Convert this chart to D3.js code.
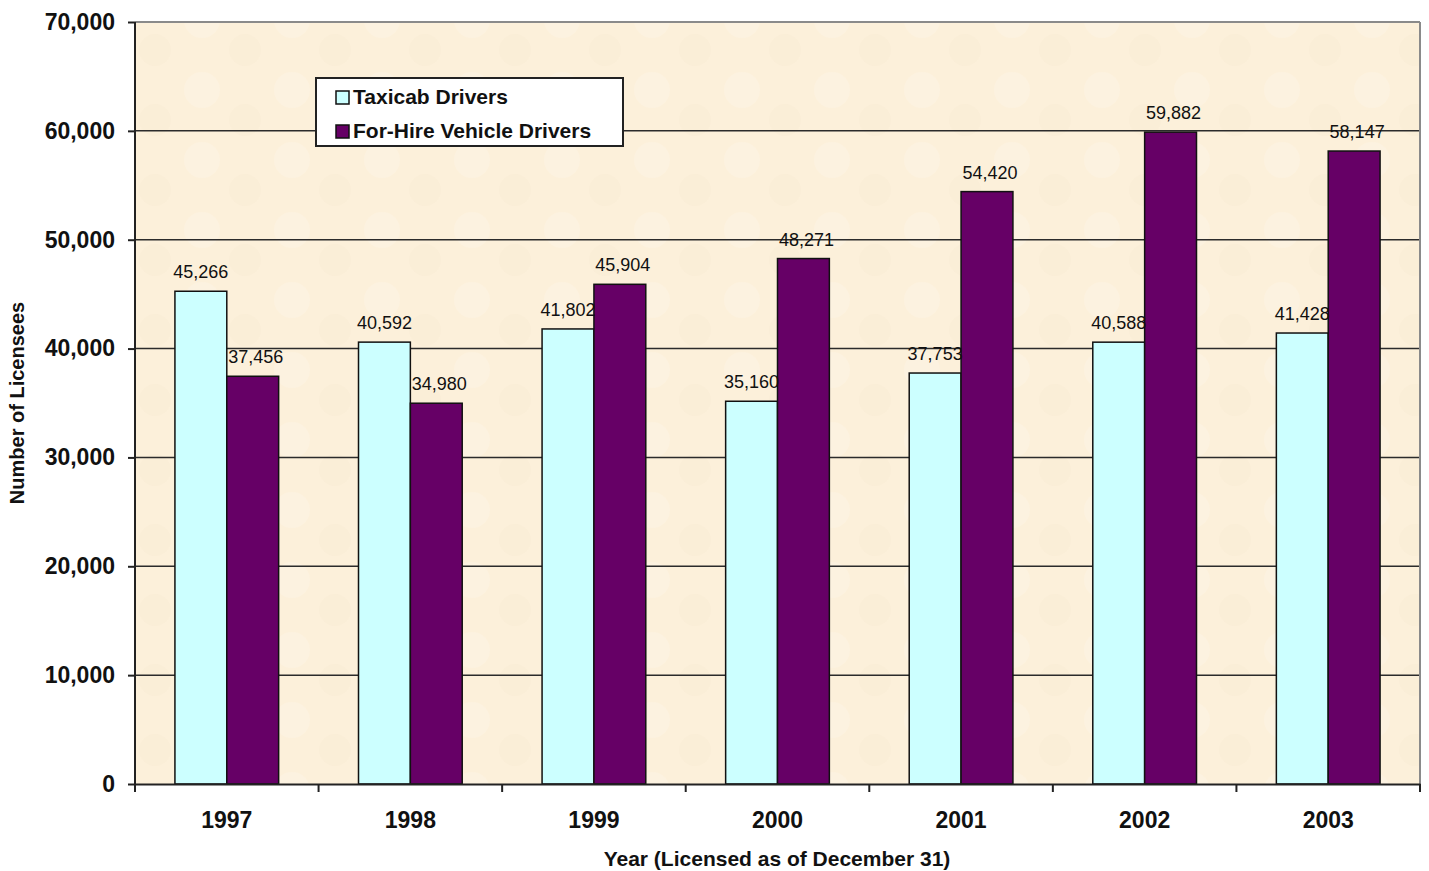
<!DOCTYPE html>
<html><head><meta charset="utf-8">
<script src="https://cdn.jsdelivr.net/npm/d3@7"></script>
<style>body{margin:0;background:#fff;} svg{display:block;font-family:Arial,"Liberation Sans",sans-serif;}</style>
</head><body>
<script>
const years = ["1997","1998","1999","2000","2001","2002","2003"];
const seriesNames = ["Taxicab Drivers","For-Hire Vehicle Drivers"];
const taxiValues = [45266,40592,41802,35160,37753,40588,41428];
const fhvValues = [37456,34980,45904,48271,54420,59882,58147];
const yTicks = [0,10000,20000,30000,40000,50000,60000,70000];
const colors = ["#CCFFFF","#660066"];

const W=1429,H=871;
const m={left:135,right:9,top:22,bottom:87};
const svg=d3.select("body").append("svg").attr("width",W).attr("height",H);

const x=d3.scaleBand().domain(years).range([m.left,W-m.right]).paddingInner(0).paddingOuter(0);
const xs=d3.scaleBand().domain([0,1]).range([0,x.bandwidth()]).paddingInner(0).paddingOuter(0.77);
const y=d3.scaleLinear().domain([0,70000]).range([H-m.bottom,m.top]);

// background
const defs=svg.append("defs");
const pat=defs.append("pattern").attr("id","tex").attr("width",90).attr("height",70).attr("patternUnits","userSpaceOnUse");
pat.append("rect").attr("width",90).attr("height",70).attr("fill","#FCF0DA");
pat.append("circle").attr("cx",22).attr("cy",20).attr("r",18).attr("fill","#FDF5E8").attr("opacity",0.45);
pat.append("circle").attr("cx",65).attr("cy",50).attr("r",16).attr("fill","#F9EBD2").attr("opacity",0.45);
svg.append("rect").attr("x",m.left).attr("y",m.top).attr("width",W-m.right-m.left).attr("height",H-m.bottom-m.top).attr("fill","url(#tex)");

// gridlines
svg.append("g").selectAll("line").data(yTicks.filter(d=>d>0)).join("line")
  .attr("x1",m.left).attr("x2",W-m.right).attr("y1",d=>y(d)).attr("y2",d=>y(d))
  .attr("stroke",d=>d===70000?"#8a8a8a":"#2b2b2b").attr("stroke-width",d=>d===70000?2:1.5);
svg.append("line").attr("x1",W-m.right).attr("x2",W-m.right).attr("y1",m.top).attr("y2",H-m.bottom).attr("stroke","#8a8a8a").attr("stroke-width",2);

// bars
const data=years.map((yr,i)=>({yr,vals:[taxiValues[i],fhvValues[i]]}));
const g=svg.append("g").selectAll("g").data(data).join("g").attr("transform",d=>`translate(${x(d.yr)},0)`);
g.selectAll("rect").data(d=>d.vals.map((v,k)=>({v,k}))).join("rect")
  .attr("x",d=>xs(d.k)).attr("width",xs.bandwidth())
  .attr("y",d=>y(d.v)).attr("height",d=>y(0)-y(d.v))
  .attr("fill",d=>colors[d.k]).attr("stroke","#111").attr("stroke-width",1.5);
g.selectAll("text").data(d=>d.vals.map((v,k)=>({v,k}))).join("text")
  .attr("x",d=>xs(d.k)+xs.bandwidth()/2+(d.k===1?3:0)).attr("y",d=>y(d.v)-13)
  .attr("text-anchor","middle").attr("font-size",18).attr("fill","#111")
  .text(d=>d3.format(",")(d.v));

// y axis
const ya=svg.append("g").attr("transform",`translate(${m.left},0)`)
  .call(d3.axisLeft(y).tickValues(yTicks).tickFormat(d3.format(",")).tickSize(7).tickPadding(13));
ya.select(".domain").attr("stroke","#222").attr("stroke-width",2).attr("d",`M0,${m.top}V${H-m.bottom}`);
ya.selectAll(".tick line").attr("stroke","#222").attr("stroke-width",2);
ya.selectAll("text").attr("font-size",23).attr("font-weight","bold").attr("fill","#111").attr("font-family","Arial,'Liberation Sans',sans-serif");

// x axis
const xa=svg.append("g").attr("transform",`translate(0,${H-m.bottom})`)
  .call(d3.axisBottom(x).tickSize(0).tickPadding(28));
xa.select(".domain").attr("stroke","#222").attr("stroke-width",2);
xa.selectAll("text").attr("font-size",23).attr("font-weight","bold").attr("fill","#111").attr("font-family","Arial,'Liberation Sans',sans-serif");
const bounds=years.map(d=>x(d)).concat([x(years[years.length-1])+x.bandwidth()]);
xa.append("g").selectAll("line").data(bounds).join("line")
  .attr("x1",d=>d).attr("x2",d=>d).attr("y1",0).attr("y2",8).attr("stroke","#222").attr("stroke-width",2);

// axis titles
svg.append("text").attr("transform",`translate(24,${(m.top+H-m.bottom)/2}) rotate(-90)`)
  .attr("text-anchor","middle").attr("font-size",20).attr("font-weight","bold").attr("fill","#111").text("Number of Licensees");
svg.append("text").attr("x",777).attr("y",866).attr("text-anchor","middle").attr("font-size",21).attr("font-weight","bold").attr("fill","#111")
  .text("Year (Licensed as of December 31)");

// legend
const lg=svg.append("g").attr("transform","translate(316,78)");
lg.append("rect").attr("width",307).attr("height",68).attr("fill","#fff").attr("stroke","#222").attr("stroke-width",2);
seriesNames.forEach((n,i)=>{
  lg.append("rect").attr("x",20).attr("y",13+i*34).attr("width",13).attr("height",13).attr("fill",colors[i]).attr("stroke","#111").attr("stroke-width",1.5);
  lg.append("text").attr("x",37).attr("y",26+i*34).attr("font-size",21).attr("font-weight","bold").attr("fill","#111").text(n);
});
</script>
</body></html>
